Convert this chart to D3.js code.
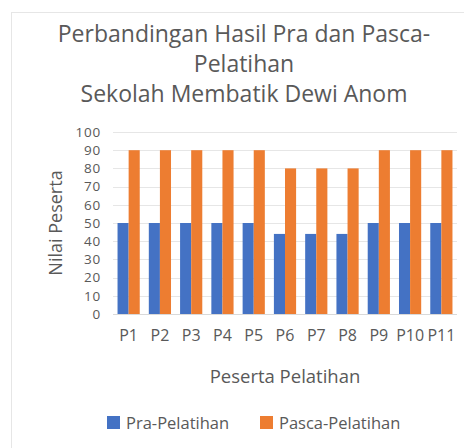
<!DOCTYPE html>
<html>
<head>
<meta charset="utf-8">
<script src="https://cdn.jsdelivr.net/npm/d3@7"></script>
<style>
  body { margin: 0; background: #fff; }
  svg text { font-family: "Open Sans", sans-serif; fill: #595959; }
</style>
</head>
<body>
<div id="content"></div>
<script>
const categories = ['P1', 'P2', 'P3', 'P4', 'P5', 'P6', 'P7', 'P8', 'P9', 'P10', 'P11'];
const seriesNames = ['Pra-Pelatihan', 'Pasca-Pelatihan'];
const praValues = [50, 50, 50, 50, 50, 44, 44, 44, 50, 50, 50];
const pascaValues = [90, 90, 90, 90, 90, 80, 80, 80, 90, 90, 90];
const yTicks = [0, 10, 20, 30, 40, 50, 60, 70, 80, 90, 100];
const titleLines = ['Perbandingan Hasil Pra dan Pasca-', 'Pelatihan', 'Sekolah Membatik Dewi Anom'];

const width = 464;
const height = 448;
const blue = '#4472C4';
const orange = '#ED7D31';
const colors = [blue, orange];

const svg = d3.select('#content')
  .append('svg')
  .attr('width', width)
  .attr('height', height);

// faint chart border
svg.append('rect')
  .attr('x', 11.5).attr('y', 12.5)
  .attr('width', 470).attr('height', 470)
  .attr('fill', 'none')
  .attr('stroke', '#e6e6e6');

svg.append('g')
  .selectAll('text')
  .data(titleLines)
  .enter()
  .append('text')
  .attr('x', 244)
  .attr('y', (d, i) => 42 + i * 30)
  .attr('text-anchor', 'middle')
  .style('font-size', '23px')
  .text(d => d);

const x = d3.scaleBand()
  .domain(categories)
  .range([113, 457])
  .paddingInner(0.29)
  .paddingOuter(0.145);

const xInner = d3.scaleBand()
  .domain(seriesNames)
  .range([0, x.bandwidth()]);

const y = d3.scaleLinear()
  .domain([0, 100])
  .range([314, 132]);

// gridlines
svg.append('g')
  .selectAll('line')
  .data(yTicks)
  .enter()
  .append('line')
  .attr('x1', 113)
  .attr('x2', 457)
  .attr('y1', d => Math.round(y(d)) + 0.5)
  .attr('y2', d => Math.round(y(d)) + 0.5)
  .attr('stroke', d => d === 0 ? '#d9d9d9' : '#e6e6e6')
  .attr('stroke-width', 1);

const rows = categories.map((c, i) => ({ cat: c, vals: [praValues[i], pascaValues[i]] }));

svg.append('g')
  .selectAll('g')
  .data(rows)
  .enter()
  .append('g')
  .attr('transform', d => `translate(${x(d.cat)},0)`)
  .selectAll('rect')
  .data(d => d.vals.map((v, j) => ({ name: seriesNames[j], v, j })))
  .enter()
  .append('rect')
  .attr('x', d => xInner(d.name))
  .attr('width', xInner.bandwidth())
  .attr('y', d => y(d.v))
  .attr('height', d => y(0) - y(d.v))
  .attr('fill', d => colors[d.j]);

// y axis labels (kept small enough not to collide at 18px spacing)
const yAxis = d3.axisLeft(y).tickValues(yTicks).tickSize(0).tickPadding(9);
const gy = svg.append('g').attr('transform', 'translate(110,0)').call(yAxis);
gy.select('.domain').remove();
gy.selectAll('text')
  .style('font-size', '13.5px')
  .style('letter-spacing', '0.8px')
  .style('font-family', '"Open Sans", sans-serif');

// x axis labels
const xAxis = d3.axisBottom(x).tickSize(0).tickPadding(16);
const gx = svg.append('g').attr('transform', 'translate(0,314)').call(xAxis);
gx.select('.domain').remove();
gx.selectAll('text').style('font-size', '16px').style('font-family', '"Open Sans", sans-serif');

svg.append('text')
  .attr('transform', 'translate(62,223) rotate(-90)')
  .attr('text-anchor', 'middle')
  .style('font-size', '18px')
  .text('Nilai Peserta');

svg.append('text')
  .attr('x', 285)
  .attr('y', 383)
  .attr('text-anchor', 'middle')
  .style('font-size', '18.5px')
  .text('Peserta Pelatihan');

// legend
const legendX = [107, 260];
const legend = svg.append('g')
  .selectAll('g')
  .data(seriesNames)
  .enter()
  .append('g')
  .attr('transform', (d, i) => `translate(${legendX[i]},416)`);

legend.append('rect')
  .attr('width', 13)
  .attr('height', 13)
  .attr('fill', (d, i) => colors[i]);

legend.append('text')
  .attr('x', 19)
  .attr('y', 12.5)
  .style('font-size', '16.5px')
  .text(d => d);
</script>
</body>
</html>
